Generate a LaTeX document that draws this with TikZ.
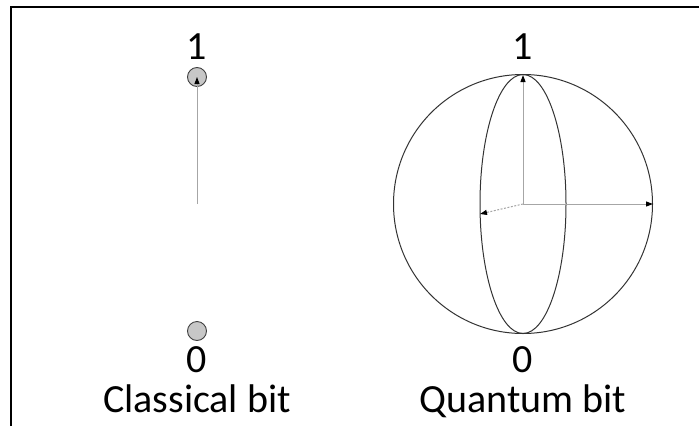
\documentclass[tikz,border=0pt]{standalone}
\usepackage{fontspec}
\setmainfont{Carlito}
\usetikzlibrary{arrows.meta,shapes.geometric}
\begin{document}
\begin{tikzpicture}[x=1pt,y=-1pt,
  lbl/.style={font=\fontsize{40}{48}\selectfont, inner sep=0pt, anchor=base},
  captxt/.style={lbl, text height=0.6em, text depth=0pt},
  bitdot/.style={circle, draw=black!75, fill=black!22, line width=0.9pt, minimum size=19pt, inner sep=0pt},
  axis/.style={draw=black!35, line width=1pt},
  tip/.style={-{Triangle[length=7pt,width=5pt,color=black]}},
  sphere/.style={draw=black!80, line width=1pt}]
\useasboundingbox (0,0) rectangle (699,426);
\draw[line width=1.3pt] (11,426) -- (11,7) -- (699,7);
% classical bit
\node[bitdot] (top) at (197,77) {};
\node[bitdot] (bot) at (197,331) {};
\coordinate (cmid) at (197,204);
\draw[axis, tip] (cmid) -- (top.center);
\node[lbl] (c1) at (197,59) {1};
\node[lbl] (c0) at (197,372) {0};
\node[captxt] (ct) at (197,412) {Classical bit};
% quantum bit
\coordinate (o) at (523,204);
\node[sphere, circle, minimum size=259pt, inner sep=0pt] (s) at (o) {};
\node[sphere, ellipse, minimum width=86pt, minimum height=259pt, inner sep=0pt] (e) at (o) {};
\coordinate (ztop) at (523,75);
\coordinate (xr) at (653,204);
\coordinate (yl) at (480,214);
\draw[axis, tip] (o) -- (ztop);
\draw[axis, tip] (o) -- (xr);
\draw[axis, tip, dash pattern=on 2pt off 1.5pt] (o) -- (yl);
\node[lbl] (q1) at (523,59) {1};
\node[lbl] (q0) at (523,372) {0};
\node[captxt] (qt) at (523,412) {Quantum bit};
\end{tikzpicture}
\end{document}
